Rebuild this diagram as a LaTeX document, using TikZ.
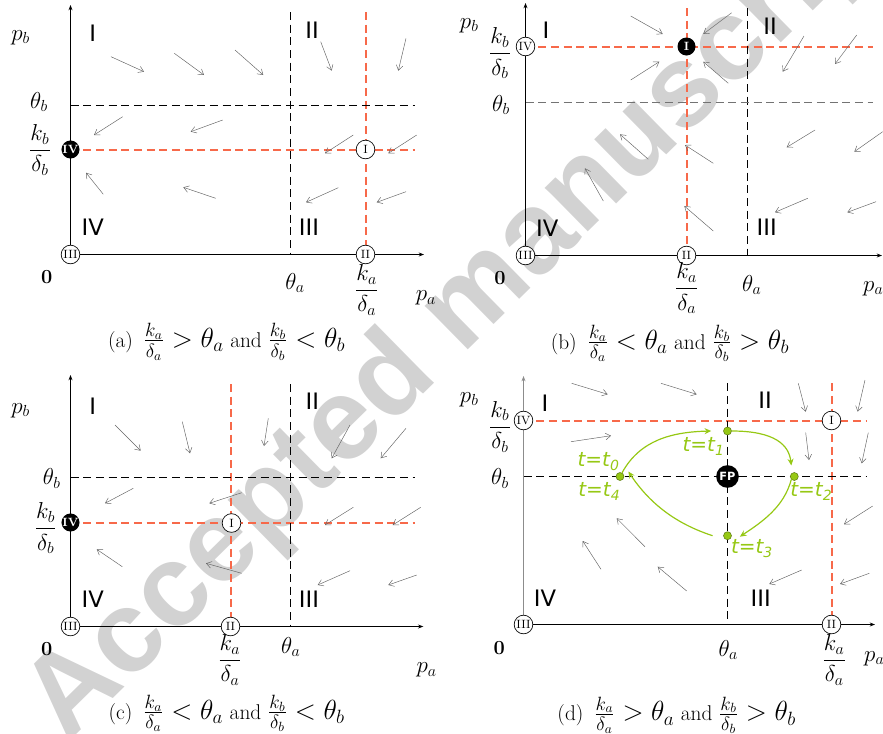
\documentclass[tikz,border=0pt]{standalone}
\usepackage{fontspec}
\newfontfamily\dejavu{DejaVu Sans}
\newfontfamily\wmfont{Liberation Sans}
\usetikzlibrary{arrows.meta}
\definecolor{salmonred}{rgb}{0.97,0.41,0.29}
\definecolor{ygreen}{RGB}{150,200,20}
\definecolor{gdotborder}{RGB}{95,125,20}
\definecolor{wmgray}{RGB}{210,210,210}
\definecolor{flowgray}{RGB}{100,100,100}
\tikzset{
  wm/.style={text=wmgray, font=\wmfont\bfseries\fontsize{87}{87}\selectfont, rotate=44.5, inner sep=0pt},
  axis/.style={draw=black, line width=0.6pt, -{Stealth[length=4pt,width=3pt]}},
  greyaxis/.style={draw=black!45, line width=0.8pt},
  bdash/.style={draw=black, line width=0.55pt, dash pattern=on 6pt off 3.5pt},
  gdash/.style={draw=black!55, line width=0.75pt, dash pattern=on 6pt off 3.5pt},
  rdash/.style={color=salmonred, line width=1.5pt, dash pattern=on 6pt off 3.5pt},
  flow/.style={draw=flowgray, line width=0.35pt, -{Straight Barb[length=3.8pt,width=5pt]}},
  ocirc/.style={circle, draw=black, fill=white, line width=0.5pt, minimum size=14pt, inner sep=0pt, font=\fontsize{9}{9}\selectfont},
  fcirc/.style={circle, fill=black, text=white, minimum size=13.5pt, inner sep=0pt, font=\fontsize{9}{9}\selectfont\bfseries},
  fpcirc/.style={circle, fill=black, text=white, minimum size=17pt, inner sep=0pt, font=\dejavu\bfseries\fontsize{8.5}{8.5}\selectfont},
  reg/.style={font=\dejavu\fontsize{17}{17}\selectfont, inner sep=0pt},
  mlab/.style={font=\fontsize{16.5}{19}\selectfont, inner sep=0pt},
  zero/.style={font=\bfseries\fontsize{15}{15}\selectfont, inner sep=0pt},
  capt/.style={font=\fontsize{16}{20}\selectfont, inner sep=0pt},
  gdot/.style={circle, fill=ygreen, draw=gdotborder, line width=0.4pt, minimum size=6pt, inner sep=0pt},
  glab/.style={text=ygreen, font=\dejavu\itshape\fontsize{15}{15}\selectfont, inner sep=0pt},
  gflow/.style={draw=ygreen, line width=0.9pt, -{Stealth[length=5pt,width=4.5pt]}}
}
\newcommand{\gsub}[1]{\raisebox{-0.35ex}{\fontsize{10.5}{10.5}\selectfont #1}}
\newcommand{\cm}[1]{{\fontsize{19.5}{22}\selectfont$#1$}}
\begin{document}
\begin{tikzpicture}[x=0.75pt,y=-0.75pt]
\useasboundingbox (0,0) rectangle (883,733);
\clip (0,0) rectangle (883,733);
\node[wm] (wm) at (467,309) {Accepted manuscript};

% ---------- coordinates ----------
\coordinate (a-o) at (70.5,254.5);
\coordinate (a-yt) at (70.5,5);
\coordinate (a-xe) at (424,254.5);
\coordinate (a-tha1) at (290.5,12);
\coordinate (a-tha2) at (290.5,254.5);
\coordinate (a-ka1) at (365.5,12);
\coordinate (a-ka2) at (365.5,254.5);
\coordinate (a-thb1) at (70.5,105.5);
\coordinate (a-thb2) at (415,105.5);
\coordinate (a-kb1) at (70.5,149.5);
\coordinate (a-kb2) at (415,149.5);
\coordinate (b-o) at (525.5,255.5);
\coordinate (b-yt) at (525.5,3);
\coordinate (b-xe) at (882,255.5);
\coordinate (b-ka1) at (686.5,8);
\coordinate (b-ka2) at (686.5,255.5);
\coordinate (b-tha1) at (747.5,8);
\coordinate (b-tha2) at (747.5,255.5);
\coordinate (b-kb1) at (525.5,46.5);
\coordinate (b-kb2) at (873,46.5);
\coordinate (b-thb1) at (525.5,102.5);
\coordinate (b-thb2) at (873,102.5);
\coordinate (c-o) at (70.5,626.5);
\coordinate (c-yt) at (70.5,375);
\coordinate (c-xe) at (423.3,626.5);
\coordinate (c-ka1) at (230.5,384);
\coordinate (c-ka2) at (230.5,626.5);
\coordinate (c-tha1) at (290.5,384);
\coordinate (c-tha2) at (290.5,626.5);
\coordinate (c-thb1) at (70.5,477.5);
\coordinate (c-thb2) at (415,477.5);
\coordinate (c-kb1) at (70.5,522.5);
\coordinate (c-kb2) at (415,522.5);
\coordinate (d-o) at (523.5,624.5);
\coordinate (d-yt) at (523.5,376);
\coordinate (d-xe) at (875,624.5);
\coordinate (d-tha1) at (727.5,383.3);
\coordinate (d-tha2) at (727.5,624.5);
\coordinate (d-ka1) at (831.5,383.3);
\coordinate (d-ka2) at (831.5,624.5);
\coordinate (d-kb1) at (523.5,420.5);
\coordinate (d-kb2) at (866.7,420.5);
\coordinate (d-thb1) at (523.5,476.5);
\coordinate (d-thb2) at (866.7,476.5);

% ---------- red nullclines ----------
\draw[rdash] (a-ka1) -- (a-ka2);
\draw[rdash] (a-kb1) -- (a-kb2);
\draw[rdash] (b-ka1) -- (b-ka2);
\draw[rdash] (b-kb1) -- (b-kb2);
\draw[rdash] (c-ka1) -- (c-ka2);
\draw[rdash] (c-kb1) -- (c-kb2);
\draw[rdash] (d-ka1) -- (d-ka2);
\draw[rdash] (d-kb1) -- (d-kb2);

% ---------- threshold lines ----------
\draw[bdash] (a-tha1) -- (a-tha2);
\draw[bdash] (a-thb1) -- (a-thb2);
\draw[bdash] (b-tha1) -- (b-tha2);
\draw[gdash] (b-thb1) -- (b-thb2);
\draw[bdash] (c-tha1) -- (c-tha2);
\draw[bdash] (c-thb1) -- (c-thb2);
\draw[bdash] (d-tha1) -- (d-tha2);
\draw[bdash] (d-thb1) -- (d-thb2);

% ---------- axes ----------
\draw[axis] (a-o) -- (a-yt);
\draw[axis] (a-o) -- (a-xe);
\draw[axis] (b-o) -- (b-yt);
\draw[axis] (b-o) -- (b-xe);
\draw[axis] (c-o) -- (c-yt);
\draw[axis] (c-o) -- (c-xe);
\draw[greyaxis, -{Stealth[length=4pt,width=3pt]}] (d-o) -- (d-yt);
\draw[axis] (d-o) -- (d-xe);

% ================= Panel (a) =================
\node[fcirc] (a-IV) at (70.5,149.5) {IV};
\node[ocirc] (a-I) at (365.5,149.5) {I};
\node[ocirc] (a-III) at (70.5,254.5) {III};
\node[ocirc] (a-II) at (365.5,254.5) {II};
\node[mlab] (a-pb) at (20.7,37.5) {$p_b$};
\node[mlab] (a-thb) at (39,102) {$\theta_b$};
\node[mlab] (a-kb) at (40,150) {$\displaystyle\frac{k_b}{\delta_b}$};
\node[zero] (a-0) at (46.7,277) {0};
\node[mlab] (a-tha) at (295,283) {$\theta_a$};
\node[mlab] (a-ka) at (366.7,290) {$\displaystyle\frac{k_a}{\delta_a}$};
\node[mlab] (a-pa) at (426,298) {$p_a$};
\node[reg] (a-rI) at (92.7,33.3) {I};
\node[reg] (a-rII) at (312,30) {II};
\node[reg] (a-rIV) at (92.7,227.7) {IV};
\node[reg] (a-rIII) at (309,227.7) {III};
\node[capt] (a-cap) at (226.7,341.7) {(a)\enspace\cm{\frac{k_a}{\delta_a} > \theta_a} and \cm{\frac{k_b}{\delta_b} < \theta_b}};
\draw[flow] (111,56.7) -- (144,71.7);
\draw[flow] (174.3,53.3) -- (204,75);
\draw[flow] (235,50) -- (263.3,75);
\draw[flow] (320.7,41.7) -- (331.7,70.7);
\draw[flow] (406,38.3) -- (398.3,70.7);
\draw[flow] (122.7,116.7) -- (94,135);
\draw[flow] (222.7,120) -- (190.7,131.7);
\draw[flow] (353.3,135) -- (325,153.3);
\draw[flow] (416.7,135) -- (388.3,153.3);
\draw[flow] (103.3,194.3) -- (86,172.7);
\draw[flow] (215.7,198.3) -- (183.3,187.3);
\draw[flow] (338.3,187.7) -- (306,202.3);
\draw[flow] (406,191.7) -- (376.7,202.3);

% ================= Panel (b) =================
\node[fcirc] (b-I) at (686.5,46.5) {I};
\node[ocirc] (b-IV) at (525.5,46.5) {IV};
\node[ocirc] (b-III) at (525.5,255.5) {III};
\node[ocirc] (b-II) at (686.5,255.5) {II};
\node[mlab] (b-pb) at (469.3,25.5) {$p_b$};
\node[mlab] (b-kb) at (500,53.3) {$\displaystyle\frac{k_b}{\delta_b}$};
\node[mlab] (b-thb) at (501,105) {$\theta_b$};
\node[zero] (b-0) at (500,278.3) {0};
\node[mlab] (b-ka) at (686.7,288.3) {$\displaystyle\frac{k_a}{\delta_a}$};
\node[mlab] (b-tha) at (751.7,285) {$\theta_a$};
\node[mlab] (b-pa) at (873.3,288.3) {$p_a$};
\node[reg] (b-rI) at (546,30) {I};
\node[reg] (b-rII) at (770,26.7) {II};
\node[reg] (b-rIV) at (547.3,228.3) {IV};
\node[reg] (b-rIII) at (766.7,227.7) {III};
\node[capt] (b-cap) at (670,343.3) {(b)\enspace\cm{\frac{k_a}{\delta_a} < \theta_a} and \cm{\frac{k_b}{\delta_b} > \theta_b}};
\draw[flow] (630.7,16) -- (662.7,34);
\draw[flow] (731.7,12.7) -- (703.3,34);
\draw[flow] (804,36) -- (782.7,71.7);
\draw[flow] (856.7,35) -- (835,64);
\draw[flow] (630.7,80) -- (659.3,61.7);
\draw[flow] (728.3,83.3) -- (703.3,61.7);
\draw[flow] (648.3,159.3) -- (620,134.3);
\draw[flow] (713.3,163.3) -- (685,145);
\draw[flow] (815,130) -- (786.7,147.3);
\draw[flow] (882.7,131.7) -- (854.3,151.7);
\draw[flow] (603.3,201) -- (585,168.3);
\draw[flow] (713.3,231) -- (684.3,206);
\draw[flow] (807.7,198.3) -- (775,212.3);
\draw[flow] (876,201.7) -- (847.3,212.3);

% ================= Panel (c) =================
\node[fcirc] (c-IV) at (70.5,522.5) {IV};
\node[ocirc] (c-I) at (231.5,523) {I};
\node[ocirc] (c-III) at (70.5,626.5) {III};
\node[ocirc] (c-II) at (230.5,626.5) {II};
\node[mlab] (c-pb) at (20.7,410.5) {$p_b$};
\node[mlab] (c-thb) at (51.7,478.3) {$\theta_b$};
\node[mlab] (c-kb) at (45.7,528.3) {$\displaystyle\frac{k_b}{\delta_b}$};
\node[zero] (c-0) at (46.7,649.3) {0};
\node[mlab] (c-ka) at (230,660) {$\displaystyle\frac{k_a}{\delta_a}$};
\node[mlab] (c-tha) at (290.7,647) {$\theta_a$};
\node[mlab] (c-pa) at (426.7,670) {$p_a$};
\node[reg] (c-rI) at (92.7,406) {I};
\node[reg] (c-rII) at (312.3,401.7) {II};
\node[reg] (c-rIV) at (92.7,599.3) {IV};
\node[reg] (c-rIII) at (309,599.3) {III};
\node[capt] (c-cap) at (226.7,713.3) {(c)\enspace\cm{\frac{k_a}{\delta_a} < \theta_a} and \cm{\frac{k_b}{\delta_b} < \theta_b}};
\draw[flow] (115,425) -- (140.7,450.7);
\draw[flow] (182.3,421.7) -- (190,453.3);
\draw[flow] (268.3,418.3) -- (264,446);
\draw[flow] (350,425) -- (331.7,458.3);
\draw[flow] (406,428.3) -- (380.7,458.3);
\draw[flow] (133.3,488.3) -- (105,503.3);
\draw[flow] (241.7,492.7) -- (209.3,503.3);
\draw[flow] (353.3,507.3) -- (325,525);
\draw[flow] (420.7,507.3) -- (392.7,525);
\draw[flow] (122.3,566.7) -- (96.7,549.3);
\draw[flow] (241.7,573.3) -- (206,563.3);
\draw[flow] (350,570.7) -- (317.7,585);
\draw[flow] (416.7,575) -- (388.3,585);

% ================= Panel (d) =================
\node[ocirc] (d-IV) at (523.5,420.5) {IV};
\node[ocirc] (d-I) at (831.5,420.5) {I};
\node[ocirc] (d-III) at (523.5,624.5) {III};
\node[ocirc] (d-II) at (831.5,624.5) {II};
\node[fpcirc] (d-FP) at (727.5,476.5) {FP};
\node[mlab] (d-pb) at (469.3,399.5) {$p_b$};
\node[mlab] (d-kb) at (500,426.7) {$\displaystyle\frac{k_b}{\delta_b}$};
\node[mlab] (d-thb) at (500,478.3) {$\theta_b$};
\node[zero] (d-0) at (499.3,648.3) {0};
\node[mlab] (d-tha) at (728.3,650) {$\theta_a$};
\node[mlab] (d-ka) at (834.3,660) {$\displaystyle\frac{k_a}{\delta_a}$};
\node[mlab] (d-pa) at (874.3,658.3) {$p_a$};
\node[reg] (d-rI) at (545,403.3) {I};
\node[reg] (d-rII) at (765,400.7) {II};
\node[reg] (d-rIV) at (545,598.3) {IV};
\node[reg] (d-rIII) at (760.7,598.3) {III};
\node[capt] (d-cap) at (676.7,715) {(d)\enspace\cm{\frac{k_a}{\delta_a} > \theta_a} and \cm{\frac{k_b}{\delta_b} > \theta_b}};
\draw[flow] (571.7,383.3) -- (607.7,394.3);
\draw[flow] (661,383.3) -- (696.7,394.3);
\draw[flow] (798.3,383.3) -- (805.7,411.7);
\draw[flow] (865,380) -- (857.7,411.7);
\draw[flow] (571,441.7) -- (611,435.7);
\draw[flow] (805.7,432.7) -- (809,460);
\draw[flow] (868.3,432.7) -- (861.7,463.3);
\draw[flow] (645,546.7) -- (616.7,518.3);
\draw[flow] (601,569.3) -- (582.7,541);
\draw[flow] (686.7,591) -- (657.7,566.7);
\draw[flow] (872.7,506) -- (844,524.3);
\draw[flow] (801.7,570) -- (769.3,584);
\draw[flow] (869.3,573.3) -- (840,584);
% trajectory
\node[gdot] (d-t0) at (620,476.5) {};
\node[gdot] (d-t1) at (727.5,431) {};
\node[gdot] (d-t2) at (794.3,476.5) {};
\node[gdot] (d-t3) at (727.5,535.7) {};
\draw[gflow] (d-t0) .. controls (640,440) and (672,432) .. ([xshift=-9pt]d-t1.west);
\draw[gflow] (d-t1.east) .. controls (775,431) and (789,445) .. ([yshift=6pt]d-t2.north west);
\draw[gflow] (d-t2.south west) .. controls (784,507) and (762,522) .. ([xshift=7pt,yshift=-3pt]d-t3.north east);
\draw[gflow] ([xshift=-8pt]d-t3.west) .. controls (680,525) and (652,507) .. ([xshift=4pt,yshift=6pt]d-t0.south east);
\node[glab] (d-l0) at (598.3,461.7) {t=t\gsub{0}};
\node[glab] (d-l1) at (703.3,446.7) {t=t\gsub{1}};
\node[glab] (d-l2) at (811,491.7) {t=t\gsub{2}};
\node[glab] (d-l3) at (751.7,548.3) {t=t\gsub{3}};
\node[glab] (d-l4) at (599,491.7) {t=t\gsub{4}};
\end{tikzpicture}
\end{document}
